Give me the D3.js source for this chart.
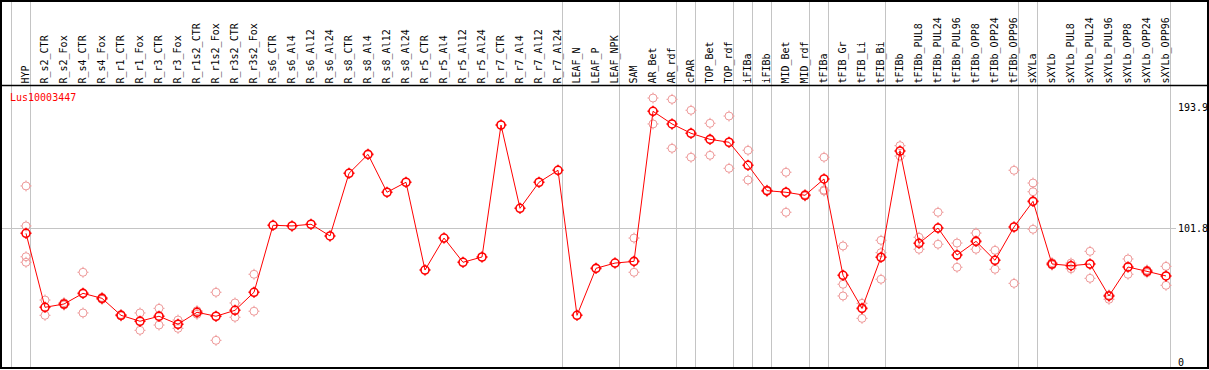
<!DOCTYPE html>
<html>
<head>
<meta charset="utf-8">
<script src="https://cdn.jsdelivr.net/npm/d3@7"></script>
<style>
  body { margin: 0; background: #fff; }
  text { font-family: "DejaVu Sans Mono", monospace; font-size: 10px; }
</style>
</head>
<body>
<script>
let categories = ["HYP", "R_s2_CTR", "R_s2_Fox", "R_s4_CTR", "R_s4_Fox", "R_r1_CTR", "R_r1_Fox", "R_r3_CTR", "R_r3_Fox",
    "R_r1s2_CTR", "R_r1s2_Fox", "R_r3s2_CTR", "R_r3s2_Fox", "R_s6_CTR", "R_s6_Al4", "R_s6_Al12", "R_s6_Al24",
    "R_s8_CTR", "R_s8_Al4", "R_s8_Al12", "R_s8_Al24", "R_r5_CTR", "R_r5_Al4", "R_r5_Al12", "R_r5_Al24",
    "R_r7_CTR", "R_r7_Al4", "R_r7_Al12", "R_r7_Al24", "LEAF_N", "LEAF_P", "LEAF_NPK", "SAM", "AR_Bet", "AR_rdf",
    "cPAR", "TOP_Bet", "TOP_rdf", "iFIBa", "iFIBb", "MID_Bet", "MID_rdf", "tFIBa", "tFIB_Gr", "tFIB_Li", "tFIB_Bi",
    "tFIBb", "tFIBb_PUL8", "tFIBb_PUL24", "tFIBb_PUL96", "tFIBb_OPP8", "tFIBb_OPP24", "tFIBb_OPP96",
    "sXYLa", "sXYLb", "sXYLb_PUL8", "sXYLb_PUL24", "sXYLb_PUL96", "sXYLb_OPP8", "sXYLb_OPP24", "sXYLb_OPP96"];

// group separators (vertical gray lines drawn before these columns)
let groupStarts = ["HYP", "R_s2_CTR", "LEAF_N", "SAM", "cPAR", "TOP_Bet", "iFIBa", "iFIBb", "MID_Bet",
    "tFIBa", "tFIB_Gr", "tFIBb", "sXYLa", "sXYLb"];

let meanValues = [98.0, 41.8, 44.3, 52.4, 48.6, 35.7, 31.2, 35.0, 28.9, 38.0, 35.0, 39.5, 53.2,
    104.1, 103.6, 104.9, 96.0, 143.6, 158.0, 129.2, 136.8, 70.1, 94.4, 76.0, 80.0,
    180.3, 117.0, 136.8, 145.9, 35.7, 71.4, 75.4, 76.7, 190.7, 181.1, 174.0, 169.4, 167.2,
    149.7, 130.4, 129.2, 126.9, 139.3, 66.1, 41.0, 79.8, 160.5, 90.4, 102.0, 81.5, 91.9,
    77.5, 102.8, 122.3, 74.7, 73.4, 74.7, 50.4, 72.4, 69.1, 65.6];

let replicateValues = [
    [134.0, 103.6, 80.2, 76.0], [47.3, 35.7], [45.3, 43.5], [68.4, 37.5], [47.8, 49.3],
    [35.2, 36.3], [37.5, 24.3], [41.0, 28.3], [32.1, 25.8], [39.2, 36.5], [53.2, 16.7],
    [45.1, 34.2], [66.9, 38.8],
    [], [], [], [], [], [], [], [], [], [], [], [], [], [], [], [], [], [], [],
    [94.4, 68.4], [200.8, 181.1], [199.8, 162.6], [191.5, 155.8], [181.6, 157.3], [187.1, 147.4],
    [161.1, 138.5], [130.9, 129.9], [144.4, 114.0], [127.5, 126.3], [155.8, 130.9, 130.2],
    [88.4, 59.3, 50.4], [44.8, 33.4], [92.7, 83.3, 63.1], [164.6, 156.7], [95.0, 85.9],
    [114.0, 89.7], [90.6, 72.2], [98.2, 85.9], [85.1, 70.7], [145.9, 60.0],
    [136.2, 129.6, 101.1], [73.9, 75.7], [75.4, 71.1], [84.3, 63.8], [51.1, 47.9],
    [78.5, 66.9], [68.1, 70.1], [72.9, 58.5]];

let yTicks = [0, 101.8, 193.9];
let geneName = "Lus10003447";

let svgWidth = 1209,
    svgHeight = 370,
    headerBottom = 85.5,
    plotBottom = 368;

let svg = d3.select("body").append("svg")
    .attr("width", svgWidth)
    .attr("height", svgHeight);

let xBand = d3.scaleBand().domain(categories).range([11.5, 1170.5]).paddingInner(0).paddingOuter(0);
let xPos = c => xBand(c) + 14.5;
let y = d3.scaleLinear().domain([0, 193.9]).range([362.3, 107.1]);

// vertical group lines
svg.selectAll("line.vgrid")
    .data(groupStarts.concat(["__end"]))
    .enter().append("line")
    .attr("x1", d => d === "__end" ? 1170.5 : xBand(d))
    .attr("x2", d => d === "__end" ? 1170.5 : xBand(d))
    .attr("y1", 0)
    .attr("y2", plotBottom)
    .attr("stroke", "#c4c4c4")
    .attr("stroke-width", 1);

// horizontal grid at middle tick
svg.append("line")
    .attr("x1", 1).attr("x2", 1176)
    .attr("y1", Math.round(y(101.8)) + 0.5).attr("y2", Math.round(y(101.8)) + 0.5)
    .attr("stroke", "#c4c4c4");

// header labels
svg.selectAll("text.cat")
    .data(categories)
    .enter().append("text")
    .attr("class", "cat")
    .attr("transform", d => "translate(" + (xPos(d) + 3) + "," + (headerBottom - 2) + ") rotate(-90)")
    .attr("fill", "#000")
    .text(d => d);

// frame and header separator
svg.append("line")
    .attr("x1", 0).attr("x2", svgWidth)
    .attr("y1", headerBottom).attr("y2", headerBottom)
    .attr("stroke", "#000").attr("stroke-width", 1.5);
svg.append("rect")
    .attr("x", 1).attr("y", 1)
    .attr("width", 1207).attr("height", plotBottom - 1)
    .attr("fill", "none").attr("stroke", "#000").attr("stroke-width", 2);

// right axis
let yAxis = d3.axisRight(y).tickValues(yTicks).tickSize(0).tickPadding(0)
    .tickFormat(d => d === 0 ? "0" : d3.format(".1f")(d));
let axisG = svg.append("g")
    .attr("transform", "translate(1178,0)")
    .call(yAxis);
axisG.select(".domain").remove();
axisG.selectAll("text")
    .style("font-family", "DejaVu Sans Mono, monospace")
    .style("font-size", "10px")
    .attr("fill", "#000");

// gene name
svg.append("text")
    .attr("x", 10).attr("y", 100.5)
    .attr("fill", "#ff0000")
    .text(geneName);

function drawMarker(g, cx, cy, color, width) {
    g.append("circle")
        .attr("cx", cx).attr("cy", cy).attr("r", 4)
        .attr("fill", "none").attr("stroke", color).attr("stroke-width", width);
    [[0, -1], [0, 1], [-1, 0], [1, 0]].forEach(d => {
        g.append("line")
            .attr("x1", cx + d[0] * 4).attr("y1", cy + d[1] * 4)
            .attr("x2", cx + d[0] * 5.5).attr("y2", cy + d[1] * 5.5)
            .attr("stroke", color).attr("stroke-width", width);
    });
}

// replicates
let repG = svg.append("g");
replicateValues.forEach((reps, i) => {
    reps.forEach(v => drawMarker(repG, xPos(categories[i]), y(v), "#ee9999", 1));
});

// mean line
let line = d3.line()
    .x((d, i) => xPos(categories[i]))
    .y(d => y(d));
svg.append("path")
    .datum(meanValues)
    .attr("d", line)
    .attr("fill", "none")
    .attr("stroke", "#ff0000")
    .attr("stroke-width", 1);

// mean markers
let meanG = svg.append("g");
meanValues.forEach((v, i) => drawMarker(meanG, xPos(categories[i]), y(v), "#ff0000", 1.6));
</script>
</body>
</html>
